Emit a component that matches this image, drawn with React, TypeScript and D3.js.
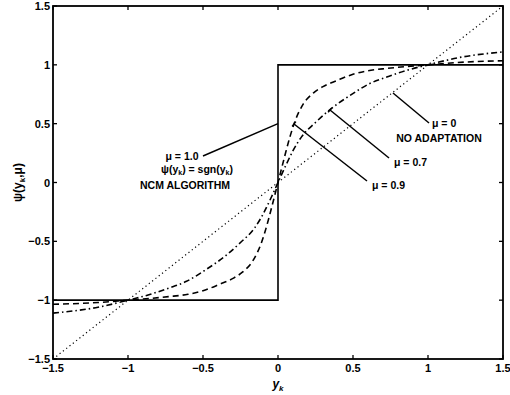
import React, { useEffect, useRef } from 'react';
import * as d3 from 'd3';

// values
const xTicks = [-1.5, -1, -0.5, 0, 0.5, 1, 1.5];
const yTicks = [-1.5, -1, -0.5, 0, 0.5, 1, 1.5];

const signX = [-1.5, 0, 0, 1.5];
const signY = [-1, -1, 1, 1];

const linX = [-1.5, 1.5];
const linY = [-1.5, 1.5];

const mu09X = [-1.5, -1.2, -1.0, -0.85, -0.73, -0.6, -0.5, -0.39, -0.3, -0.235, -0.17, -0.113, -0.08, -0.04, 0,
  0.04, 0.08, 0.113, 0.17, 0.235, 0.3, 0.39, 0.5, 0.6, 0.73, 0.85, 1.0, 1.2, 1.5];
const mu09Y = [-1.035, -1.02, -1.0, -0.985, -0.97, -0.95, -0.92, -0.865, -0.815, -0.76, -0.67, -0.52, -0.39, -0.2, 0,
  0.2, 0.39, 0.52, 0.67, 0.76, 0.815, 0.865, 0.92, 0.95, 0.97, 0.985, 1.0, 1.02, 1.035];

const mu07X = [-1.5, -1.2, -1.0, -0.85, -0.735, -0.61, -0.48, -0.347, -0.25, -0.158, -0.1, -0.05, 0,
  0.05, 0.1, 0.158, 0.25, 0.347, 0.48, 0.61, 0.735, 0.85, 1.0, 1.2, 1.5];
const mu07Y = [-1.11, -1.06, -1.0, -0.95, -0.9, -0.84, -0.74, -0.62, -0.51, -0.39, -0.27, -0.14, 0,
  0.14, 0.27, 0.39, 0.51, 0.62, 0.74, 0.84, 0.9, 0.95, 1.0, 1.06, 1.11];

const W = 510;
const H = 395;
const margin = { left: 53, right: 7, top: 6, bottom: 36 };
const font = '"Liberation Sans", Arial, sans-serif';

export default function App() {
  const ref = useRef<SVGSVGElement>(null);

  useEffect(() => {
    const svg = d3.select(ref.current);
    svg.selectAll('*').remove();

    const x = d3.scaleLinear().domain([-1.5, 1.5]).range([margin.left, W - margin.right]);
    const y = d3.scaleLinear().domain([-1.5, 1.5]).range([H - margin.bottom, margin.top]);

    const g = svg.append('g');

    const zip = (xs: number[], ys: number[]) => xs.map((v, i) => [v, ys[i]] as [number, number]);
    const smooth = d3.line<[number, number]>()
      .x(d => x(d[0])).y(d => y(d[1]))
      .curve(d3.curveMonotoneX);
    const straight = d3.line<[number, number]>()
      .x(d => x(d[0])).y(d => y(d[1]));

    // curves
    g.append('path').attr('d', straight(zip(linX, linY)))
      .attr('fill', 'none').attr('stroke', '#000').attr('stroke-width', 1.2)
      .attr('stroke-dasharray', '1.2,3');
    g.append('path').attr('d', smooth(zip(mu07X, mu07Y)))
      .attr('fill', 'none').attr('stroke', '#000').attr('stroke-width', 1.6)
      .attr('stroke-dasharray', '6,3,1.5,3');
    g.append('path').attr('d', smooth(zip(mu09X, mu09Y)))
      .attr('fill', 'none').attr('stroke', '#000').attr('stroke-width', 1.6)
      .attr('stroke-dasharray', '6,4');
    g.append('path').attr('d', straight(zip(signX, signY)))
      .attr('fill', 'none').attr('stroke', '#000').attr('stroke-width', 1.6);

    // box
    g.append('rect')
      .attr('x', x(-1.5)).attr('y', y(1.5))
      .attr('width', x(1.5) - x(-1.5)).attr('height', y(-1.5) - y(1.5))
      .attr('fill', 'none').attr('stroke', '#000').attr('stroke-width', 1.8);

    // ticks
    const tl = 4;
    xTicks.forEach(t => {
      g.append('line').attr('x1', x(t)).attr('x2', x(t)).attr('y1', y(-1.5)).attr('y2', y(-1.5) - tl)
        .attr('stroke', '#000').attr('stroke-width', 1.3);
      g.append('line').attr('x1', x(t)).attr('x2', x(t)).attr('y1', y(1.5)).attr('y2', y(1.5) + tl)
        .attr('stroke', '#000').attr('stroke-width', 1.3);
      g.append('text').attr('x', x(t)).attr('y', y(-1.5) + 13)
        .attr('text-anchor', 'middle').attr('font-family', font).attr('font-weight', 'bold')
        .attr('font-size', 11).text(d3.format('')(t).replace('-', '\u2212'));
    });
    yTicks.forEach(t => {
      g.append('line').attr('y1', y(t)).attr('y2', y(t)).attr('x1', x(-1.5)).attr('x2', x(-1.5) + tl)
        .attr('stroke', '#000').attr('stroke-width', 1.3);
      g.append('line').attr('y1', y(t)).attr('y2', y(t)).attr('x1', x(1.5)).attr('x2', x(1.5) - tl)
        .attr('stroke', '#000').attr('stroke-width', 1.3);
      g.append('text').attr('x', x(-1.5) - 3).attr('y', y(t) + 4)
        .attr('text-anchor', 'end').attr('font-family', font).attr('font-weight', 'bold')
        .attr('font-size', 11).text(d3.format('')(t).replace('-', '\u2212'));
    });

    // axis labels
    const xl = g.append('text').attr('x', x(0)).attr('y', H - 7)
      .attr('text-anchor', 'middle').attr('font-family', font).attr('font-weight', 'bold').attr('font-size', 12);
    xl.append('tspan').attr('font-style', 'italic').text('y');
    xl.append('tspan').attr('font-size', 8).attr('dy', 3).attr('font-style', 'italic').text('k');

    const yl = g.append('text')
      .attr('transform', `translate(22,${y(0)}) rotate(-90)`)
      .attr('text-anchor', 'middle').attr('font-family', font).attr('font-weight', 'bold').attr('font-size', 12);
    yl.append('tspan').text('\u03c8(y');
    yl.append('tspan').attr('font-size', 8).attr('dy', 3).text('k');
    yl.append('tspan').attr('dy', -3).text(',\u03bc)');

    // annotations: leader lines with small end bars
    const leader = (x1: number, y1: number, x2: number, y2: number, bar: boolean) => {
      g.append('line').attr('x1', x1).attr('y1', y1).attr('x2', x2).attr('y2', y2)
        .attr('stroke', '#000').attr('stroke-width', 1.5);
      if (bar) {
        const dx = x2 - x1, dy = y2 - y1, len = Math.hypot(dx, dy);
        const px = -dy / len * 3, py = dx / len * 3;
        g.append('line').attr('x1', x1 - px).attr('y1', y1 - py).attr('x2', x1 + px).attr('y2', y1 + py)
          .attr('stroke', '#000').attr('stroke-width', 1.5);
      }
    };
    const label = (tx: number, ty: number, s: string, anchor = 'start') =>
      g.append('text').attr('x', tx).attr('y', ty).attr('text-anchor', anchor)
        .attr('font-family', font).attr('font-weight', 'bold').attr('font-size', 10.5).text(s);

    leader(x(0), y(0.5), 203, 156, false);
    label(182, 160, '\u03bc = 1.0', 'middle');
    const s = g.append('text').attr('x', 197).attr('y', 173).attr('text-anchor', 'middle')
      .attr('font-family', font).attr('font-weight', 'bold').attr('font-size', 10.5);
    s.append('tspan').text('\u03c8(y');
    s.append('tspan').attr('font-size', 7).attr('dy', 2).text('k');
    s.append('tspan').attr('dy', -2).text(') = sgn(y');
    s.append('tspan').attr('font-size', 7).attr('dy', 2).text('k');
    s.append('tspan').attr('dy', -2).text(')');
    label(185, 189, 'NCM ALGORITHM', 'middle');

    leader(294, 124, 367, 181, true);
    label(372, 189, '\u03bc = 0.9');

    leader(330, 110, 389, 158, true);
    label(394, 166, '\u03bc = 0.7');

    leader(393, 93, 429, 123, false);
    label(432, 127, '\u03bc = 0');
    label(439, 142, 'NO ADAPTATION', 'middle');
  }, []);

  return (
    <svg ref={ref} width={W} height={H}
      style={{ position: 'absolute', left: 0, top: 0, background: '#fff' }} />
  );
}
